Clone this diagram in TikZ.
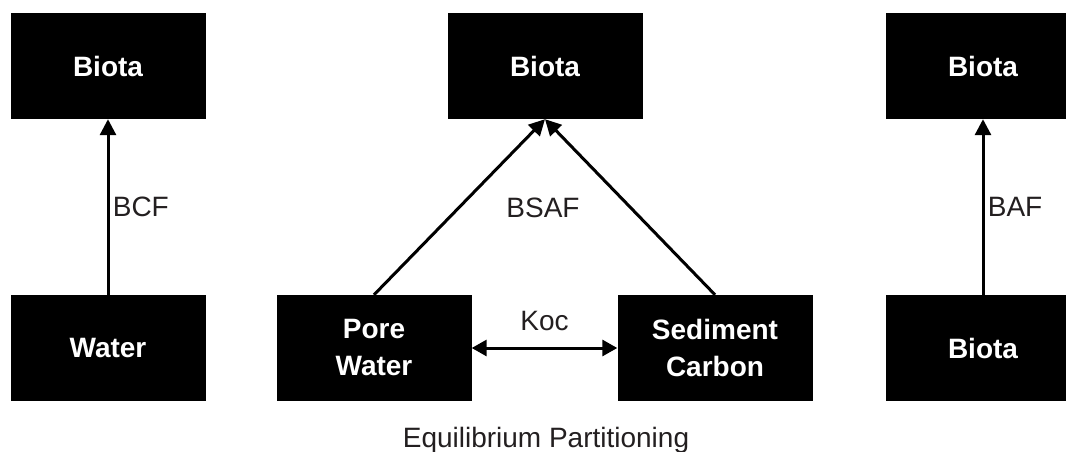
\documentclass[tikz,border=0pt]{standalone}
\usepackage{fontspec}
\setmainfont{Liberation Sans}
\usetikzlibrary{arrows.meta}
\definecolor{labelgrey}{HTML}{231F20}
\tikzset{
	pool/.style={fill=black, text=white, font=\fontsize{28}{37}\selectfont\bfseries,
		minimum width=195pt, minimum height=106pt, inner sep=0pt, align=center},
	factor/.style={text=labelgrey, font=\fontsize{28}{34}\selectfont},
	uptake/.style={line width=3pt, -{Triangle[width=16pt,length=16pt]}},
	swap/.style={line width=3pt, {Triangle[width=16pt,length=15pt]}-{Triangle[width=16pt,length=15pt]}}
}

\begin{document}
\begin{tikzpicture}[x=1pt,y=1pt]
\path[use as bounding box, clip] (0,0) rectangle (1066,451);

\pgfmathsetmacro{\colA}{108}
\pgfmathsetmacro{\colB}{545}
\pgfmathsetmacro{\colC}{983}
\pgfmathsetmacro{\poreX}{374}
\pgfmathsetmacro{\sedX}{715}
\pgfmathsetmacro{\rowHi}{385}
\pgfmathsetmacro{\rowLo}{103}

\node[pool] (bioA) at (\colA,\rowHi) {Biota};
\node[pool] (water) at (\colA,\rowLo) {Water};

\node[pool] (bioB) at (\colB,\rowHi) {Biota};
\node[pool] (pore) at (\poreX,\rowLo) {Pore\\Water};
\node[pool] (sed) at (\sedX,\rowLo) {Sediment\\Carbon};

\node[pool] (bioC) at (\colC,\rowHi) {Biota};
\node[pool] (bioD) at (\colC,\rowLo) {Biota};

\draw[uptake] (water) -- node[factor, right] {BCF} (bioA);
\draw[uptake] (bioD) -- node[factor, right] {BAF} (bioC);

\draw[uptake] (pore.north) -- (bioB.south);
\draw[uptake] (sed.north) -- (bioB.south);
\node[factor] (bsaf) at (543,243) {BSAF};
\draw[swap] (pore) -- node[factor, above=12pt] {Koc} (sed);

\node[factor, anchor=base] (eqp) at (546,4) {Equilibrium Partitioning};
\end{tikzpicture}
\end{document}
